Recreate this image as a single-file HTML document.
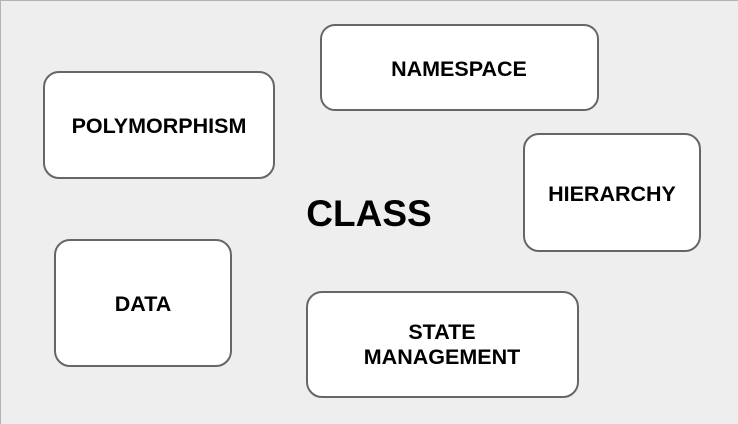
<!DOCTYPE html>
<html><head><style>
body{margin:0;width:738px;height:424px;overflow:hidden;background:#fff}
svg{display:block}
text{font-family:"Liberation Sans",Arial,sans-serif;font-weight:bold;fill:#000}
</style></head><body>
<svg width="738" height="424" xmlns="http://www.w3.org/2000/svg">
<rect x="0.5" y="0.5" width="740" height="426" fill="#eeeeee" stroke="#b3b3b3" stroke-width="1"/>
<g fill="#fff" stroke="#666" stroke-width="2">
<rect x="44" y="72" width="230" height="106" rx="15"/>
<rect x="321" y="25" width="277" height="85" rx="14"/>
<rect x="524" y="134" width="176" height="117" rx="15"/>
<rect x="55" y="240" width="176" height="126" rx="15"/>
<rect x="307" y="292" width="271" height="105" rx="15"/>
</g>
<g font-size="21.5" text-anchor="middle">
<text x="159" y="133">POLYMORPHISM</text>
<text x="459" y="76">NAMESPACE</text>
<text x="612" y="201">HIERARCHY</text>
<text x="143" y="311">DATA</text>
<text x="442" y="339">STATE</text>
<text x="442" y="364">MANAGEMENT</text>
</g>
<text x="369" y="226" font-size="37" text-anchor="middle">CLASS</text>
</svg>
</body></html>
